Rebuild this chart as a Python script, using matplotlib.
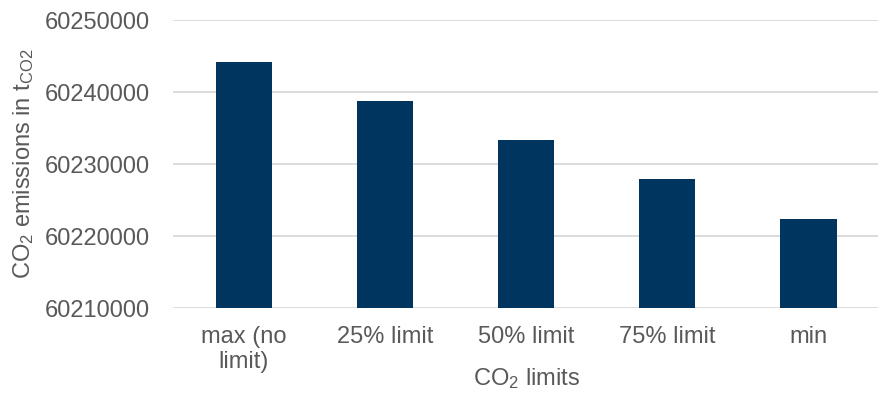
import matplotlib
matplotlib.use('Agg')
from matplotlib import pyplot as plt
import numpy as np

plt.rcParams['font.family'] = ['Liberation Sans', 'DejaVu Sans']
plt.rcParams['mathtext.fontset'] = 'custom'
plt.rcParams['mathtext.rm'] = 'Liberation Sans'
plt.rcParams['mathtext.it'] = 'Liberation Sans'

categories = ['max (no\nlimit)', '25% limit', '50% limit', '75% limit', 'min']
emissions = [60244250, 60238800, 60233400, 60227900, 60222450]
yticks = [60210000, 60220000, 60230000, 60240000, 60250000]

text_color = '#595959'
bar_color = '#00355F'
grid_color = '#D9D9D9'

fig = plt.figure(figsize=(8.79, 3.95), dpi=100)
ax = fig.add_axes([0.197, 0.2195, 0.803, 0.7295])

x = np.arange(len(categories))
ax.bar(x, emissions, width=0.4, color=bar_color, zorder=3)

ax.set_xlim(-0.5, len(categories) - 0.5)
ax.set_ylim(yticks[0], yticks[-1])
ax.set_yticks(yticks)
ax.set_yticklabels([str(v) for v in yticks])
ax.set_xticks(x)
ax.set_xticklabels(categories, linespacing=1.15)

ax.grid(axis='y', color=grid_color, linewidth=1.3, zorder=0)
for s in ax.spines.values():
    s.set_visible(False)
ax.tick_params(axis='both', length=0, labelsize=17, labelcolor=text_color)
ax.tick_params(axis='y', pad=17)
ax.tick_params(axis='x', pad=13)

ax.set_xlabel('CO$_2$ limits', fontsize=17, color=text_color)
ax.xaxis.set_label_coords(0.5, -0.2)
fig.text(0.027, 0.585, 'CO$_2$ emissions in t$_{\\mathrm{CO2}}$', rotation=90,
         ha='center', va='center', fontsize=17, color=text_color)

plt.savefig('out.png', dpi=100)
